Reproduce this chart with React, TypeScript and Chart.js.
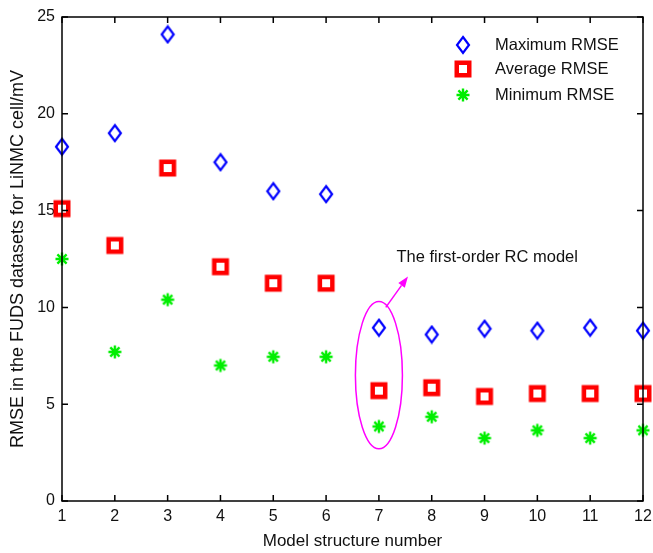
import React, { useEffect, useRef } from 'react';
import { Chart, registerables } from 'chart.js';

Chart.register(...registerables);

// ---- data ----
const modelNumbers = [1, 2, 3, 4, 5, 6, 7, 8, 9, 10, 11, 12];
const maximumRmse = [18.3, 19.0, 24.1, 17.5, 16.0, 15.85, 8.95, 8.6, 8.9, 8.8, 8.95, 8.8];
const averageRmse = [15.1, 13.2, 17.2, 12.1, 11.25, 11.25, 5.7, 5.85, 5.4, 5.55, 5.55, 5.55];
const minimumRmse = [12.5, 7.7, 10.4, 7.0, 7.45, 7.45, 3.85, 4.35, 3.25, 3.65, 3.25, 3.65];
const xTickValues = [1, 2, 3, 4, 5, 6, 7, 8, 9, 10, 11, 12];
const yTickValues = [0, 5, 10, 15, 20, 25];
const seriesNames = ['Maximum RMSE', 'Average RMSE', 'Minimum RMSE'];
const xTitle = 'Model structure number';
const yTitle = 'RMSE in the FUDS datasets for LiNMC cell/mV';
const annotationText = 'The first-order RC model';
// annotation geometry in data units: ellipse around model 7, arrow, label
const ellipseCenter = [7, 6.5];
const ellipseRadii = [0.445, 3.8];
const arrowFrom = [7.13, 10.0];
const arrowTo = [7.55, 11.6];
const labelAt = [9.05, 12.6];

const FONT = 'Arial, "Liberation Sans", Helvetica, sans-serif';

function makeCanvas(w: number, h: number, draw: (c: CanvasRenderingContext2D) => void) {
  const cv = document.createElement('canvas');
  cv.width = w;
  cv.height = h;
  const c = cv.getContext('2d')!;
  draw(c);
  return cv;
}

const diamondMarker = () =>
  makeCanvas(16, 20, (c) => {
    c.strokeStyle = '#0000ff';
    c.lineWidth = 2.2;
    c.beginPath();
    c.moveTo(8, 2);
    c.lineTo(14, 10);
    c.lineTo(8, 18);
    c.lineTo(2, 10);
    c.closePath();
    c.stroke();
  });

const squareMarker = () =>
  makeCanvas(20, 20, (c) => {
    c.strokeStyle = '#ff0000';
    c.lineWidth = 4.5;
    c.lineJoin = 'miter';
    c.strokeRect(3.75, 3.75, 12.5, 12.5);
  });

const starMarker = () =>
  makeCanvas(16, 16, (c) => {
    c.strokeStyle = '#00ee00';
    c.lineWidth = 2.4;
    c.lineCap = 'butt';
    const r = 6.5;
    c.beginPath();
    for (let k = 0; k < 4; k++) {
      const a = (k * Math.PI) / 4;
      c.moveTo(8 - r * Math.cos(a), 8 - r * Math.sin(a));
      c.lineTo(8 + r * Math.cos(a), 8 + r * Math.sin(a));
    }
    c.stroke();
  });

export default function App() {
  const ref = useRef<HTMLCanvasElement | null>(null);

  useEffect(() => {
    if (!ref.current) return;
    const markers = [diamondMarker(), squareMarker(), starMarker()];
    const colors = ['#0000ff', '#ff0000', '#00ee00'];
    const values = [maximumRmse, averageRmse, minimumRmse];

    const framePlugin = {
      id: 'frameAndNotes',
      afterDatasetsDraw(chart: any) {
        const { ctx, chartArea: a, scales } = chart;
        const xs = scales.x;
        const ys = scales.y;
        ctx.save();
        // box
        ctx.strokeStyle = '#000';
        ctx.lineWidth = 1.5;
        ctx.strokeRect(a.left, a.top, a.right - a.left, a.bottom - a.top);
        // inward ticks
        const tl = 6;
        ctx.beginPath();
        xTickValues.forEach((v) => {
          const px = xs.getPixelForValue(v);
          ctx.moveTo(px, a.bottom);
          ctx.lineTo(px, a.bottom - tl);
          ctx.moveTo(px, a.top);
          ctx.lineTo(px, a.top + tl);
        });
        yTickValues.forEach((v) => {
          const py = ys.getPixelForValue(v);
          ctx.moveTo(a.left, py);
          ctx.lineTo(a.left + tl, py);
          ctx.moveTo(a.right, py);
          ctx.lineTo(a.right - tl, py);
        });
        ctx.stroke();

        // annotation ellipse
        const cx = xs.getPixelForValue(ellipseCenter[0]);
        const cy = ys.getPixelForValue(ellipseCenter[1]);
        const rx = xs.getPixelForValue(ellipseCenter[0] + ellipseRadii[0]) - cx;
        const ry = cy - ys.getPixelForValue(ellipseCenter[1] + ellipseRadii[1]);
        ctx.strokeStyle = '#ff00ff';
        ctx.lineWidth = 1.5;
        ctx.beginPath();
        ctx.ellipse(cx, cy, rx, ry, 0, 0, Math.PI * 2);
        ctx.stroke();
        // arrow
        const x1 = xs.getPixelForValue(arrowFrom[0]);
        const y1 = ys.getPixelForValue(arrowFrom[1]);
        const x2 = xs.getPixelForValue(arrowTo[0]);
        const y2 = ys.getPixelForValue(arrowTo[1]);
        const ang = Math.atan2(y2 - y1, x2 - x1);
        const hl = 11;
        const hw = 4;
        const bx = x2 - hl * Math.cos(ang);
        const by = y2 - hl * Math.sin(ang);
        ctx.beginPath();
        ctx.moveTo(x1, y1);
        ctx.lineTo(bx, by);
        ctx.stroke();
        ctx.fillStyle = '#ff00ff';
        ctx.beginPath();
        ctx.moveTo(x2, y2);
        ctx.lineTo(bx + hw * Math.sin(ang), by - hw * Math.cos(ang));
        ctx.lineTo(bx - hw * Math.sin(ang), by + hw * Math.cos(ang));
        ctx.closePath();
        ctx.fill();
        // label
        ctx.fillStyle = '#111';
        ctx.font = `16.5px ${FONT}`;
        ctx.textAlign = 'center';
        ctx.textBaseline = 'middle';
        ctx.fillText(annotationText, xs.getPixelForValue(labelAt[0]), ys.getPixelForValue(labelAt[1]));

        // legend (inside top-right)
        const symX = a.right - 180;
        const txtX = a.right - 148;
        const rowY = [a.top + 28, a.top + 52, a.top + 78];
        ctx.textAlign = 'left';
        ctx.font = `16.5px ${FONT}`;
        seriesNames.forEach((name, i) => {
          const m = markers[i];
          ctx.drawImage(m, symX - m.width / 2, rowY[i] - m.height / 2);
          ctx.fillStyle = '#111';
          ctx.fillText(name, txtX, rowY[i]);
        });
        ctx.restore();
      },
    };

    const chart = new Chart(ref.current, {
      type: 'scatter',
      data: {
        datasets: seriesNames.map((name, i) => ({
          label: name,
          data: modelNumbers.map((x, j) => ({ x, y: values[i][j] })),
          pointStyle: markers[i] as any,
          borderColor: colors[i],
          backgroundColor: colors[i],
          clip: false as any,
        })),
      },
      options: {
        animation: false,
        responsive: false,
        maintainAspectRatio: false,
        layout: { padding: { left: 0, right: 10, top: 17, bottom: 0 } },
        plugins: {
          legend: { display: false },
          tooltip: { enabled: false },
        },
        scales: {
          x: {
            type: 'linear',
            min: 1,
            max: 12,
            afterBuildTicks: (s: any) => {
              s.ticks = xTickValues.map((v) => ({ value: v }));
            },
            afterFit: (s: any) => {
              s.height = 52;
              s.paddingRight = 0;
              s.paddingLeft = 0;
            },
            grid: { display: false, drawTicks: false },
            border: { display: false },
            ticks: {
              font: { family: FONT, size: 16 },
              color: '#111',
              padding: 6,
              maxRotation: 0,
              autoSkip: false,
              callback: (v: any) => String(v),
            },
            title: {
              display: true,
              text: xTitle,
              font: { family: FONT, size: 17 },
              color: '#111',
              padding: { top: 0, bottom: 1 },
            },
          },
          y: {
            type: 'linear',
            min: 0,
            max: 25,
            afterBuildTicks: (s: any) => {
              s.ticks = yTickValues.map((v) => ({ value: v }));
            },
            afterFit: (s: any) => {
              s.width = 62;
            },
            grid: { display: false, drawTicks: false },
            border: { display: false },
            ticks: {
              font: { family: FONT, size: 16 },
              color: '#111',
              padding: 7,
              autoSkip: false,
              callback: (v: any) => String(v),
            },
            title: {
              display: true,
              text: yTitle,
              font: { family: FONT, size: 18 },
              color: '#111',
              padding: { top: 7, bottom: 0 },
            },
          },
        },
      },
      plugins: [framePlugin],
    });
    return () => chart.destroy();
  }, []);

  return (
    <div style={{ position: 'absolute', left: 0, top: 0, width: 653, height: 553, background: '#fff' }}>
      <canvas ref={ref} width={653} height={553} style={{ width: 653, height: 553, display: 'block' }} />
    </div>
  );
}
